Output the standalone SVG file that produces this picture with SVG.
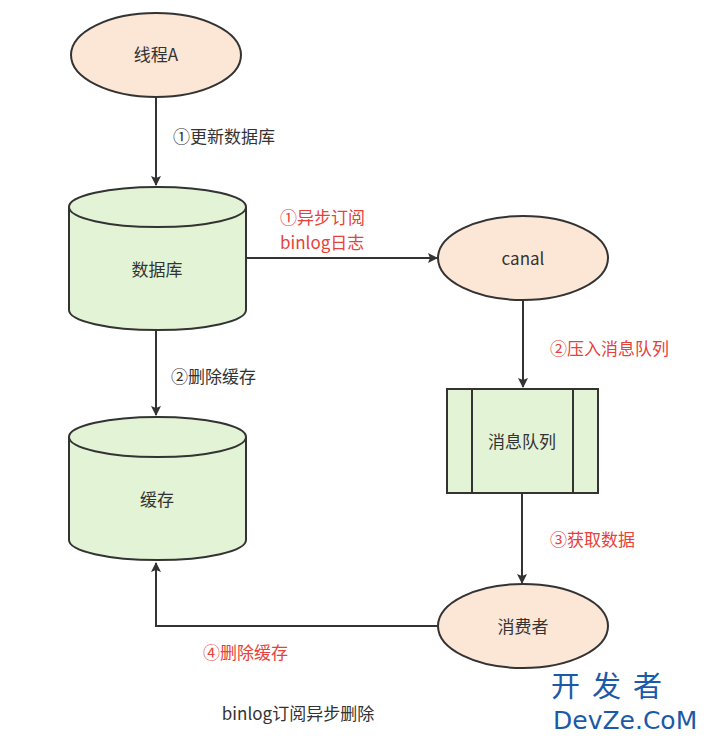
<svg xmlns="http://www.w3.org/2000/svg" width="708" height="739" viewBox="0 0 708 739">
<style>
.o{fill:#fce6d6;stroke:#333;stroke-width:2}
.g{fill:#e3f3d6;stroke:#333;stroke-width:2}
.c{fill:none;stroke:#333;stroke-width:2}
text{font-family:"Noto Sans CJK SC","Noto Sans",sans-serif;font-size:17px;fill:#333}
.r{fill:#e8403a}
.m{text-anchor:middle}
</style>
<defs><marker id="a" markerWidth="10" markerHeight="10" refX="9" refY="5" orient="auto" markerUnits="userSpaceOnUse"><path d="M0,0L10,5L0,10L2,5Z" fill="#333"/></marker></defs>
<rect width="708" height="739" fill="#fff"/>
<g id="threadA"><ellipse class="o" cx="156" cy="55" rx="85" ry="42"/><text class="m" x="156" y="61">线程A</text></g>
<g id="db"><path class="g" d="M69,207A88,20 0 0 1 246,207V310A88,20 0 0 1 69,310Z"/><path class="c" d="M69,207A88,20 0 0 0 246,207"/><text class="m" x="157" y="276">数据库</text></g>
<g id="cache"><path class="g" d="M69,437A88,20 0 0 1 246,437V540A88,20 0 0 1 69,540Z"/><path class="c" d="M69,437A88,20 0 0 0 246,437"/><text class="m" x="157" y="506">缓存</text></g>
<g id="canal"><ellipse class="o" cx="523" cy="258" rx="85" ry="42"/><text class="m" x="523" y="265">canal</text></g>
<g id="mq"><rect class="g" x="447" y="389" width="151" height="104"/><path class="c" d="M472,389V493M573,389V493"/><text class="m" x="522" y="448">消息队列</text></g>
<g id="consumer"><ellipse class="o" cx="523" cy="626" rx="85" ry="42"/><text class="m" x="523" y="633">消费者</text></g>
<g id="connectors">
<path class="c" d="M156,97V185" marker-end="url(#a)"/>
<path class="c" d="M246,258H437" marker-end="url(#a)"/>
<path class="c" d="M523,300V387" marker-end="url(#a)"/>
<path class="c" d="M522,493V583" marker-end="url(#a)"/>
<path class="c" d="M156,330V415" marker-end="url(#a)"/>
<path class="c" d="M438,626H156V563" marker-end="url(#a)"/>
<text x="173" y="143">①更新数据库</text>
<text class="r" x="280" y="224">①异步订阅</text>
<text class="r" x="280" y="249">binlog日志</text>
<text class="r" x="550" y="355">②压入消息队列</text>
<text class="r" x="550" y="546">③获取数据</text>
<text x="171" y="383">②删除缓存</text>
<text class="r" x="203" y="659">④删除缓存</text>
</g>
<text class="m" x="298" y="720">binlog订阅异步删除</text>
<text x="551" y="697" style="font-size:29px;fill:#1a5aa8;letter-spacing:12px">开发者</text>
<text x="553" y="729" style="font-size:25px;fill:#1a5aa8;font-family:'DejaVu Sans',sans-serif">DevZe.CoM</text>
</svg>
